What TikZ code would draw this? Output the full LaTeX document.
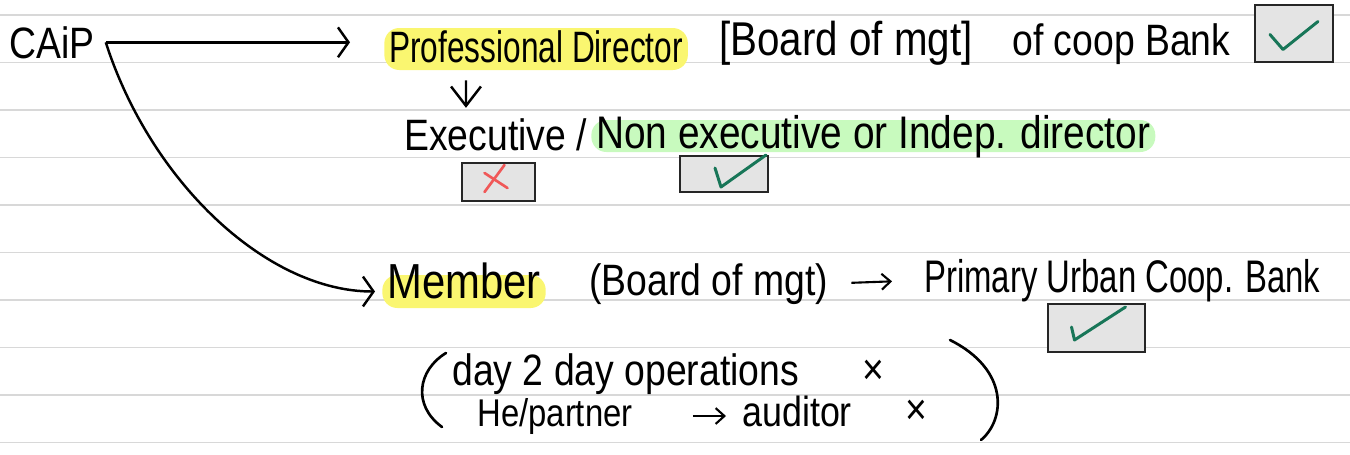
\documentclass[tikz,border=0pt]{standalone}
\usepackage{fontspec}
\usetikzlibrary{arrows.meta}
\newfontfamily\handfont[FakeStretch=0.85]{Liberation Sans}
\newfontfamily\narrowfont[FakeStretch=0.72]{Liberation Sans}
\definecolor{hlyellow}{RGB}{250,246,112}
\definecolor{hlgreen}{RGB}{200,250,190}
\definecolor{boxgray}{RGB}{228,228,228}
\definecolor{tickgreen}{RGB}{24,118,88}
\definecolor{crossred}{RGB}{240,88,88}
\definecolor{rulegray}{RGB}{216,216,216}
\tikzset{
  hand/.style={font=\handfont\fontsize{#1}{#1}\selectfont, inner sep=0pt, anchor=base west},
  hand/.default=25,
  nhand/.style={hand, font=\narrowfont\fontsize{#1}{#1}\selectfont},
  hl/.style={fill=#1, rounded corners=0.3cm, inner xsep=0.1cm, inner ysep=0.04cm},
  chkbox/.style={draw=black!85, line width=1.3pt, fill=boxgray},
  tick/.style={draw=tickgreen, line width=1.7pt, line cap=round, line join=round},
  cross/.style={draw=crossred, line width=1.5pt, line cap=round},
  arr/.style={line width=1.4pt, -{Straight Barb[length=6pt,width=17pt]}},
  downarr/.style={line width=1.4pt, -{Straight Barb[length=11pt,width=17pt]}},
  sarr/.style={line width=1.2pt, -{Straight Barb[length=5pt,width=9pt]}},
  pen/.style={line width=1.5pt, line cap=round}
}
\begin{document}
\begin{tikzpicture}[x=0.02cm, y=-0.02cm]
\useasboundingbox (0,0) rectangle (1350,454);
\foreach \k in {0,...,9}
  \draw[rulegray, line width=1.1pt] (0,{15+47.5*\k}) -- (1350,{15+47.5*\k});

\node[hand] (caip) at (9,58) {CAiP};
\node[nhand=25, hl=hlyellow, text height=0.64cm, text depth=0.12cm] (prof) at (384,62) {Professional Director};
\node[hand=27] (mgt) at (719,55) {[Board of mgt]};
\node[hand] (coop) at (1012,55) {of coop Bank};
\node[chkbox, minimum width=1.56cm, minimum height=1.14cm] (ok1) at (1294,33.5) {};
\draw[tick] ([shift={(-24,1)}]ok1.center) -- ([shift={(-11,16)}]ok1.center) -- ([shift={(24,-12)}]ok1.center);

\node[hand] (exec) at (404,150) {Executive /};
\node[hand=26, hl=hlgreen, text height=0.52cm, text depth=0.04cm] (indep) at (591,148) {Non executive or Indep. director};
\node[chkbox, minimum width=1.46cm, minimum height=0.76cm] (no1) at (498.5,182) {};
\draw[cross] ([shift={(-14,-9)}]no1.center) -- ([shift={(9,6)}]no1.center);
\draw[cross] ([shift={(6,-17)}]no1.center) -- ([shift={(-14,10)}]no1.center);
\node[chkbox, minimum width=1.76cm, minimum height=0.72cm] (ok2) at (724,174) {};
\draw[tick] ([shift={(-9,-6)}]ok2.center) -- ([shift={(-3,13)}]ok2.center) -- ([shift={(42,-19)}]ok2.center);

\node[hand=28, hl=hlyellow, text height=0.42cm, text depth=0.16cm] (mem) at (382,298) {Member};
\node[hand] (bom) at (589,295) {(Board of mgt)};
\node[nhand=26] (puc) at (924,292) {Primary Urban Coop. Bank};
\node[chkbox, minimum width=1.94cm, minimum height=0.96cm] (ok3) at (1096.5,328) {};
\draw[tick] ([shift={(-25,-1)}]ok3.center) -- ([shift={(-22,12)}]ok3.center) -- ([shift={(29,-21)}]ok3.center);

\node[hand] (ops) at (452,385) {day 2 day operations};
\node[hand] (opsno) at (862,384) {×};
\node[hand=22] (hp) at (477,426) {He/partner};
\node[hand=24] (aud) at (742,426) {auditor};
\node[hand] (audno) at (905,424) {×};
\draw[pen] (446,353) .. controls (418,370) and (412,405) .. (442,427);
\draw[pen] (950,340) .. controls (1010,370) and (1005,420) .. (981,440);

\coordinate (fork) at ([xshift=0.22cm]caip.east);
\draw[arr, shorten >=0.68cm] (fork) -- (fork -| prof.west);
\draw[arr, shorten >=0.14cm] (fork) .. controls +(45,140) and +(-115,0) .. (mem.west);
\draw[downarr] ([xshift=1.64cm, yshift=-0.2cm]prof.south west) -- ([xshift=1.24cm, yshift=0.2cm]exec.north west);
\draw[sarr, shorten <=0.46cm, shorten >=0.64cm] (bom.east) -- (puc.west);
\draw[sarr, shorten <=1.2cm, shorten >=0.32cm] (hp.east) -- (hp.east -| aud.west);
\end{tikzpicture}
\end{document}
